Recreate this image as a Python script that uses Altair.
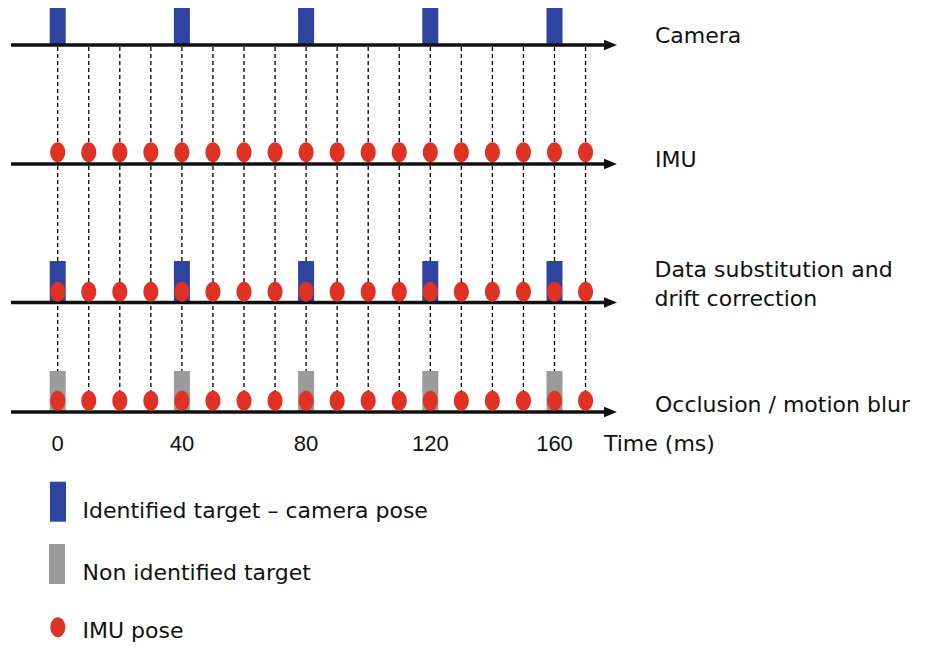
import altair as alt
import pandas as pd

# ---- data ----
imu_times = [0, 10, 20, 30, 40, 50, 60, 70, 80, 90, 100, 110, 120, 130, 140, 150, 160, 170]
camera_times = [0, 40, 80, 120, 160]
tick_values = [0, 40, 80, 120, 160]
tick_labels = ["0", "40", "80", "120", "160"]
row_labels = ["Camera", "IMU", "Data substitution and", "drift correction", "Occlusion / motion blur"]
axis_title = "Time (ms)"
legend_labels = ["Identified target \u2013 camera pose", "Non identified target", "IMU pose"]

imu_df = pd.DataFrame({"t": imu_times})
cam_df = pd.DataFrame({"t": camera_times})
tick_df = pd.DataFrame({"t": tick_values, "label": tick_labels})
one = pd.DataFrame({"k": [0]})

# ---- layout / style ----
W, H = 928, 637
X0_PX, PX_PER_MS = 49.7, 3.105
xscale = alt.Scale(domain=[-X0_PX / PX_PER_MS, (W - X0_PX) / PX_PER_MS], nice=False, zero=False)
X = alt.X("t:Q", scale=xscale, axis=None)

BLUE = "#2E44A0"
GRAY = "#9B9B9B"
RED = "#E03224"
INK = "#111111"
FONT = "DejaVu Sans"
ELLIPSE = ("M0,-1C0.414,-1,0.75,-0.552,0.75,0C0.75,0.552,0.414,1,0,1"
           "C-0.414,1,-0.75,0.552,-0.75,0C-0.75,-0.552,-0.414,-1,0,-1Z")
TRI = "M-1,-0.8L1,0L-1,0.8Z"

ROW_Y = [37, 156, 294.5, 404]          # axis line positions
DOT_Y = [144.3, 283.7, 392.7]           # IMU, data-substitution, occlusion dots

layers = []

# dashed guides
layers.append(alt.Chart(imu_df).mark_rule(color="#000", strokeWidth=1.3, strokeDash=[4, 3]).encode(
    x=X, y=alt.value(39), y2=alt.value(390)))

# target rectangles
for (y1, y2, col) in [(0, 37, BLUE), (253, 294, BLUE), (363, 403, GRAY)]:
    layers.append(alt.Chart(cam_df).mark_rule(color=col, strokeWidth=16, strokeCap="butt").encode(
        x=X, y=alt.value(y1), y2=alt.value(y2)))

# axis arrows
for ry in ROW_Y:
    layers.append(alt.Chart(one).mark_rule(color=INK, strokeWidth=3.4, strokeCap="butt").encode(
        x=alt.value(3), x2=alt.value(600), y=alt.value(ry)))
    layers.append(alt.Chart(one).mark_point(shape=TRI, size=169, filled=True, color=INK, opacity=1,
                                            strokeWidth=0).encode(
        x=alt.value(602.5), y=alt.value(ry)))

# IMU dots
for cy in DOT_Y:
    layers.append(alt.Chart(imu_df).mark_point(shape=ELLIPSE, size=400, filled=True, color=RED,
                                               opacity=1, strokeWidth=0).encode(
        x=X, y=alt.value(cy)))

# row labels
label_pos = [(647, 35.3), (647, 158.7), (646.5, 269), (646.5, 297.7), (647, 403.7)]
for txt, (lx, ly) in zip(row_labels, label_pos):
    layers.append(alt.Chart(one).mark_text(text=txt, align="left", baseline="alphabetic", font=FONT,
                                           fontSize=22, color=INK).encode(
        x=alt.value(lx), y=alt.value(ly)))

# time axis labels
layers.append(alt.Chart(tick_df).mark_text(align="center", baseline="alphabetic", font="Liberation Sans",
                                           fontSize=22, color=INK).encode(
    x=X, y=alt.value(442.7), text="label:N"))
layers.append(alt.Chart(one).mark_text(text=axis_title, align="left", baseline="alphabetic", font=FONT,
                                       fontSize=22, color=INK).encode(
    x=alt.value(596), y=alt.value(442.7)))

# legend
layers.append(alt.Chart(one).mark_rule(color=BLUE, strokeWidth=16, strokeCap="butt").encode(
    x=alt.value(50), y=alt.value(473.7), y2=alt.value(513.7)))
layers.append(alt.Chart(one).mark_rule(color=GRAY, strokeWidth=16, strokeCap="butt").encode(
    x=alt.value(49), y=alt.value(536), y2=alt.value(576)))
layers.append(alt.Chart(one).mark_point(shape=ELLIPSE, size=400, filled=True, color=RED,
                                        opacity=1, strokeWidth=0).encode(
    x=alt.value(49.8), y=alt.value(619.3)))
for txt, ly in zip(legend_labels, [510.3, 572, 630.3]):
    layers.append(alt.Chart(one).mark_text(text=txt, align="left", baseline="alphabetic", font=FONT,
                                           fontSize=22, color=INK).encode(
        x=alt.value(74.5), y=alt.value(ly)))

chart = alt.layer(*layers).properties(
    width=W, height=H, padding=0, autosize="none", background="white"
).configure_view(stroke=None)

chart.save("out.html", embed_options={"renderer": "svg", "actions": False})
